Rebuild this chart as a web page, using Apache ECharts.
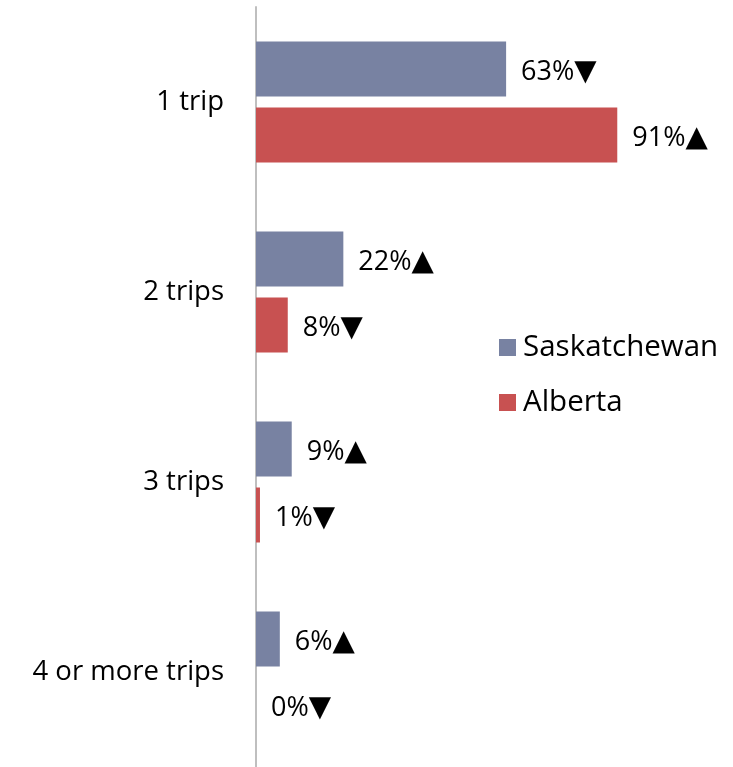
<!DOCTYPE html>
<html>
<head>
<meta charset="utf-8">
<script src="https://cdn.jsdelivr.net/npm/echarts@6/dist/echarts.min.js"></script>
<style>
  html, body { margin: 0; padding: 0; background: #fff; }
  #chart { width: 733px; height: 767px; }
</style>
</head>
<body>
<div id="chart"></div>
<script>
// Number of trips taken, share of respondents by province
const categories = ['1 trip', '2 trips', '3 trips', '4 or more trips'];
const saskatchewan = [63, 22, 9, 6];
const alberta = [91, 8, 1, 0];
// Direction marker shown after each value (significant change)
const saskatchewanTrend = ['▼', '▲', '▲', '▲'];
const albertaTrend = ['▲', '▼', '▼', '▼'];

const FONT = '"Open Sans", "DejaVu Sans", sans-serif';

function labelFor(trend) {
  return {
    show: true,
    position: 'right',
    distance: 15,
    offset: [0, 3],
    color: '#000',
    fontFamily: FONT,
    fontSize: 27,
    formatter: p => p.value + '%{arrow|' + trend[p.dataIndex] + '}',
    rich: {
      arrow: { fontFamily: '"DejaVu Sans", sans-serif', fontSize: 29, color: '#000' }
    }
  };
}

const chart = echarts.init(document.getElementById('chart'));
chart.setOption({
  animation: false,
  backgroundColor: '#fff',
  grid: { left: 256, top: 7, width: 397, height: 762, containLabel: false },
  legend: {
    orient: 'vertical',
    left: 494,
    top: 325,
    itemWidth: 17,
    itemHeight: 17,
    itemGap: 20,
    icon: 'rect',
    textStyle: { fontFamily: FONT, fontSize: 29.5, color: '#000', lineHeight: 35, padding: [0, 0, 0, 2] },
    data: ['Saskatchewan', 'Alberta']
  },
  xAxis: {
    type: 'value',
    min: 0,
    max: 100,
    show: false
  },
  yAxis: {
    type: 'category',
    inverse: true,
    data: categories,
    axisLine: { show: true, lineStyle: { color: '#bfbfbf', width: 2 } },
    axisTick: { show: false },
    axisLabel: { margin: 32, color: '#000', fontFamily: FONT, fontSize: 27.5, padding: [5, 0, 0, 0] }
  },
  series: [
    {
      name: 'Saskatchewan',
      type: 'bar',
      data: saskatchewan,
      barWidth: 55,
      barGap: '20%',
      itemStyle: { color: '#7882A2' },
      label: labelFor(saskatchewanTrend)
    },
    {
      name: 'Alberta',
      type: 'bar',
      data: alberta,
      barWidth: 55,
      itemStyle: { color: '#C85151' },
      label: labelFor(albertaTrend)
    }
  ]
});
</script>
</body>
</html>
